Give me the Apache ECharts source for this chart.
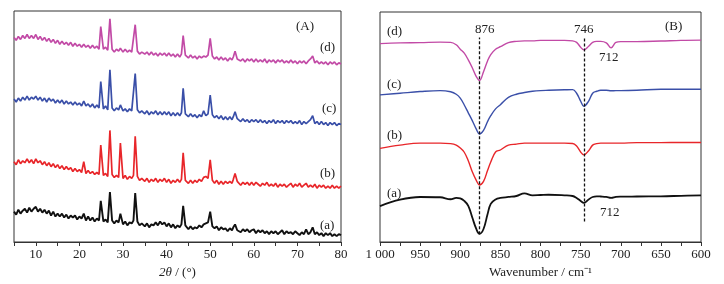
<!DOCTYPE html>
<html>
<head>
<meta charset="utf-8">
<script src="https://cdn.jsdelivr.net/npm/echarts@6/dist/echarts.min.js"></script>
<style>
  html, body { margin: 0; padding: 0; background: #fff; }
  #chart { width: 724px; height: 284px; }
</style>
</head>
<body>
<div id="chart"></div>
<script>
// XRD 2theta grid shared by the four patterns
const twoTheta = [5,5.5,6,6.5,7,7.5,8,8.5,9,9.5,10,10.5,11,11.5,12,12.5,13,13.5,14,14.5,15,15.5,16,16.5,17,17.5,18,18.5,19,19.5,20,20.5,21,21.5,22,22.5,23,23.5,24,24.5,
  24.9,25.5,26,26.5,27,27.5,28,28.5,29,29.4,30,30.5,31,31.5,32,32.4,32.8,33.3,33.8,34.3,
  35,35.5,36,36.5,37,37.5,38,38.5,39,39.5,40,40.5,41,41.5,42,42.5,43,43.4,43.8,44.3,
  45,45.5,46,46.5,47,47.5,48,48.5,49,49.5,50,50.5,51,51.5,52,52.5,53,53.5,54,54.5,55,55.3,55.7,56.2,
  57,57.5,58,58.5,59,59.5,60,60.5,61,61.5,62,62.5,63,63.5,64,64.5,65,65.5,66,66.5,67,67.5,68,68.5,69,69.5,70,70.5,71,71.5,72,72.5,73,73.5,74,74.5,75,75.5,76,76.5,77,77.5,78,78.5,79,79.5,80];

const xrdA = [31,28,33,29,32,34,30,35,31,34,36,31,34,30,33,29,32,27,31,26,29,26,29,25,28,24,27,25,27,23,26,24,29,22,26,22,25,21,24,22,
  42,21,23,20,51,22,19,22,20,29,18,21,17,20,19,22,50,21,17,19,
  16,19,15,18,17,20,17,21,18,20,16,19,15,18,14,17,15,18,37,17,
  13,16,13,15,14,17,15,18,19,20,31,16,14,16,12,15,13,14,11,14,12,15,18,12,
  10,13,11,13,10,12,13,9,12,10,12,9,11,8,11,9,11,8,10,12,8,11,9,10,8,11,9,7,10,8,13,8,10,15,8,10,7,9,6,9,7,9,6,8,6,8,7];

const xrdB = [82,79,84,80,83,81,85,81,84,80,85,81,83,79,82,78,81,77,80,76,79,75,78,74,77,74,76,72,75,72,74,71,82,70,73,70,72,69,71,69,
  99,68,70,67,114,69,66,68,66,101,65,68,64,67,65,68,108,67,63,65,
  62,65,61,64,62,65,61,64,62,65,61,64,60,63,61,64,61,64,91,63,
  60,63,60,63,61,64,62,66,67,65,84,63,60,63,59,62,59,62,60,62,60,64,70,62,
  58,61,59,61,58,61,58,61,59,57,60,58,61,57,59,57,60,56,59,57,59,56,58,60,56,59,57,60,56,58,60,56,58,56,59,55,58,56,58,55,57,55,58,55,57,55,57];

const xrdC = [146,143,147,144,148,145,149,145,148,146,149,145,148,144,147,143,147,144,146,142,145,142,145,141,144,141,143,140,143,140,142,139,144,139,141,138,141,137,140,137,
  164,136,139,135,176,137,134,137,135,140,134,136,133,136,134,136,172,135,132,134,
  131,134,130,133,131,134,130,133,130,133,130,133,129,132,129,132,129,132,157,131,
  128,131,128,130,127,130,128,134,129,131,150,130,127,129,126,129,125,128,125,128,125,128,133,126,
  123,126,123,125,122,125,123,125,122,125,122,124,121,124,122,125,121,124,122,124,121,124,122,124,121,123,121,124,120,123,121,123,125,129,121,123,120,123,120,122,119,122,120,122,119,121,120];

const xrdD = [209,206,210,207,211,208,212,208,211,208,212,207,210,206,209,205,208,204,207,203,206,202,205,202,204,201,204,200,203,200,202,199,202,199,201,198,201,198,200,197,
  220,197,199,196,228,197,194,197,195,198,194,197,194,196,194,196,222,195,192,194,
  192,194,191,194,191,193,190,193,191,193,190,193,190,192,189,192,189,192,211,191,
  188,191,188,190,187,190,188,190,189,191,208,190,187,189,186,189,186,188,185,188,186,189,195,187,
  185,187,184,187,185,187,184,187,184,186,184,187,183,186,184,186,183,186,184,186,183,185,183,186,183,185,182,185,183,185,182,185,187,190,183,185,182,184,182,184,181,184,182,184,181,183,182];

// FTIR wavenumber grid shared by the four spectra
const wavenumber = [1000,975,950,925,912,905,900,895,890,885,880,876,871,866,862,856,850,840,830,820,810,800,790,770,760,755,750,746,740,735,730,725,718,712,706,700,680,650,625,600];

const irA = [36.7,43.3,46,45.7,43.7,45,44.5,42,37,25,13.3,8.3,13.3,28.3,39,43.5,45,46,47,49.7,47.7,48,48.3,47.7,47,45,42,40,43.5,46,46.7,46.5,46,45,46,46.3,46.5,46.7,47.2,47.7];
const irB = [95.7,99,101,101,100.5,99,96,91.7,83,71.7,63,58.3,62,73,81.7,92,94,99,100,101,101,101,101,101,100.7,98,92,89,93.3,99,100.5,101,101,101,101,101,101.5,101.5,101.7,101.7];
const irC = [150.3,152,153.7,154.7,153.5,151,147,140,132,124,115.3,110.3,114,123,129,136,140.3,147.7,151,152.7,154,154.7,155,155.5,155.7,152,144,138.7,144,152,154,155,155,154.5,154.7,154.7,155,156,156,156];
const irD = [202.7,203.5,203.7,204.2,204,201.5,197,193,186,178,169,165,174,185,191.5,197,199.5,203.7,205,205.5,205.5,206,206,206,205.5,204,199,196.3,200,204,205,205,203.5,198.5,204,204.7,204.7,205.3,206,206.3];

const names = ['(a)', '(b)', '(c)', '(d)'];
const colors = ['#111111', '#e8262a', '#3a4fa8', '#c24aa6'];
const bandPositions = [876, 746];

const font = 'Liberation Serif, Times New Roman, serif';
const chart = echarts.init(document.getElementById('chart'));

function pairs(xs, ys) {
  return xs.map((x, i) => [x, ys[i]]);
}

const xrdSeries = [xrdA, xrdB, xrdC, xrdD].map((ys, i) => ({
  name: 'xrd ' + names[i],
  type: 'line',
  xAxisIndex: 0,
  yAxisIndex: 0,
  showSymbol: false,
  symbol: 'none',
  lineStyle: { color: colors[i], width: i === 0 ? 1.9 : 1.7 },
  data: pairs(twoTheta, ys)
}));

const irSeries = [irA, irB, irC, irD].map((ys, i) => ({
  name: 'ir ' + names[i],
  type: 'line',
  xAxisIndex: 1,
  yAxisIndex: 1,
  showSymbol: false,
  symbol: 'none',
  smooth: 0.4,
  lineStyle: { color: colors[i], width: i === 0 ? 1.8 : 1.4 },
  data: pairs(wavenumber, ys)
}));

// dashed guide lines at the carbonate bands
irSeries[0].markLine = {
  silent: true,
  symbol: 'none',
  label: { show: false },
  lineStyle: { color: '#111', type: [3, 2], width: 1.3 },
  data: [
    [{ coord: [bandPositions[0], 8] }, { coord: [bandPositions[0], 209] }],
    [{ coord: [bandPositions[1], 21] }, { coord: [bandPositions[1], 209] }]
  ]
};

const txt = (x, y, s) => ({
  type: 'text', left: x, top: y,
  style: { text: s, font: '13px ' + font, fill: '#222' }
});

const axisLabel = { color: '#222', fontFamily: font, fontSize: 13, margin: 6 };

chart.setOption({
  animation: false,
  grid: [
    { left: 14, top: 11, width: 327, height: 236, show: true, borderColor: '#333', borderWidth: 1 },
    { left: 380, top: 12, width: 321, height: 235, show: true, borderColor: '#333', borderWidth: 1 }
  ],
  xAxis: [
    {
      gridIndex: 0, type: 'value', min: 5, max: 80, interval: 5,
      axisLine: { lineStyle: { color: '#333' } },
      axisTick: { inside: false, length: 4, lineStyle: { color: '#333' } },
      splitLine: { show: false },
      axisLabel: { ...axisLabel, formatter: v => (v % 10 === 0 ? String(v) : '') },
      name: '{i|2θ} / (°)', nameLocation: 'middle', nameGap: 24,
      nameTextStyle: {
        color: '#222', fontFamily: font, fontSize: 13,
        rich: { i: { fontStyle: 'italic', fontFamily: font, fontSize: 13, color: '#222' } }
      }
    },
    {
      gridIndex: 1, type: 'value', min: 600, max: 1000, interval: 25, inverse: true,
      axisLine: { lineStyle: { color: '#333' } },
      axisTick: { inside: false, length: 4, lineStyle: { color: '#333' } },
      splitLine: { show: false },
      axisLabel: {
        ...axisLabel,
        formatter: v => (v % 50 !== 0 ? '' : v === 1000 ? '1 000' : String(v))
      },
      name: 'Wavenumber / cm⁻¹', nameLocation: 'middle', nameGap: 24,
      nameTextStyle: { color: '#222', fontFamily: font, fontSize: 13 }
    }
  ],
  yAxis: [
    { gridIndex: 0, type: 'value', min: 0, max: 236, show: false },
    { gridIndex: 1, type: 'value', min: 0, max: 235, show: false }
  ],
  graphic: [
    txt(296, 20, '(A)'), txt(320, 41, '(d)'), txt(322, 102, '(c)'), txt(320, 167, '(b)'), txt(320, 219, '(a)'),
    txt(387, 25, '(d)'), txt(475, 23, '876'), txt(574, 23, '746'), txt(665, 20, '(B)'),
    txt(599, 51, '712'), txt(387, 78, '(c)'), txt(387, 129, '(b)'), txt(387, 187, '(a)'), txt(600, 206, '712')
  ],
  series: [...xrdSeries, ...irSeries]
});
</script>
</body>
</html>
